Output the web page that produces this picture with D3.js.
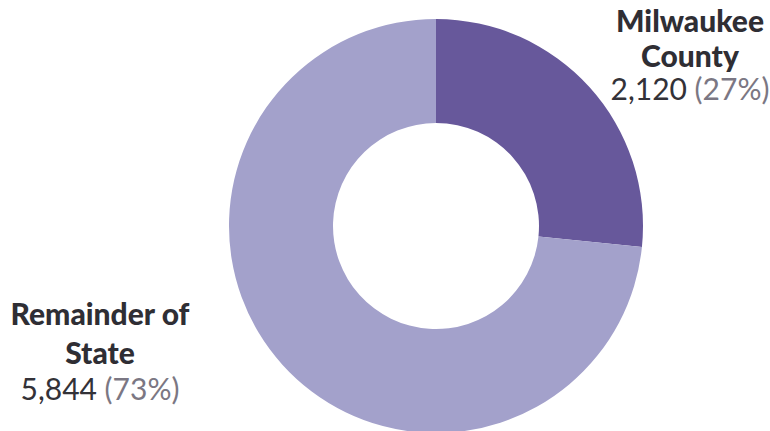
<!DOCTYPE html>
<html>
<head>
<meta charset="utf-8">
<script src="https://cdn.jsdelivr.net/npm/d3@7"></script>
<style>
  body { margin: 0; background: #fff; }
  svg { display: block; }
</style>
</head>
<body>
<div id="chart"></div>
<script>
// Data
const categories = ["Milwaukee County", "Remainder of State"];
const counts = [2120, 5844];
const percents = [27, 73];
const colors = ["#67589b", "#a3a1cb"];

const width = 770, height = 431;
const cx = 436, cy = 226;
const outerR = 207, innerR = 103;

const svg = d3.select("#chart")
    .append("svg")
    .attr("width", width)
    .attr("height", height);

const g = svg.append("g")
    .attr("transform", `translate(${cx}, ${cy})`);

// Pie keeps the data order, starting at 12 o'clock going clockwise
const pie = d3.pie().sort(null).value(d => d.count);
const arc = d3.arc().innerRadius(innerR).outerRadius(outerR);

const data = categories.map((c, i) => ({ name: c, count: counts[i], pct: percents[i], color: colors[i] }));

g.selectAll("path")
    .data(pie(data))
    .enter().append("path")
    .attr("d", arc)
    .attr("fill", d => d.data.color);

// Labels (three lines each: two bold name lines, then count + percent)
const fmt = d3.format(",");
const labelPos = [
    { x: 690, ys: [32, 67, 100], lines: ["Milwaukee", "County"] },
    { x: 100, ys: [325, 364, 400], lines: ["Remainder of", "State"] }
];

labelPos.forEach((p, i) => {
    const t = svg.append("g")
        .attr("text-anchor", "middle")
        .style("font-family", "Lato, 'Open Sans', sans-serif")
        .style("font-size", "30px");

    p.lines.forEach((line, j) => {
        t.append("text")
            .attr("x", p.x)
            .attr("y", p.ys[j])
            .style("font-weight", "900")
            .attr("fill", "#2f2e34")
            .text(line);
    });

    const last = t.append("text")
        .attr("x", p.x)
        .attr("y", p.ys[2]);
    last.append("tspan").attr("fill", "#333238").text(fmt(data[i].count) + " ");
    last.append("tspan").attr("fill", "#7b7783").text(`(${data[i].pct}%)`);
});
</script>
</body>
</html>
